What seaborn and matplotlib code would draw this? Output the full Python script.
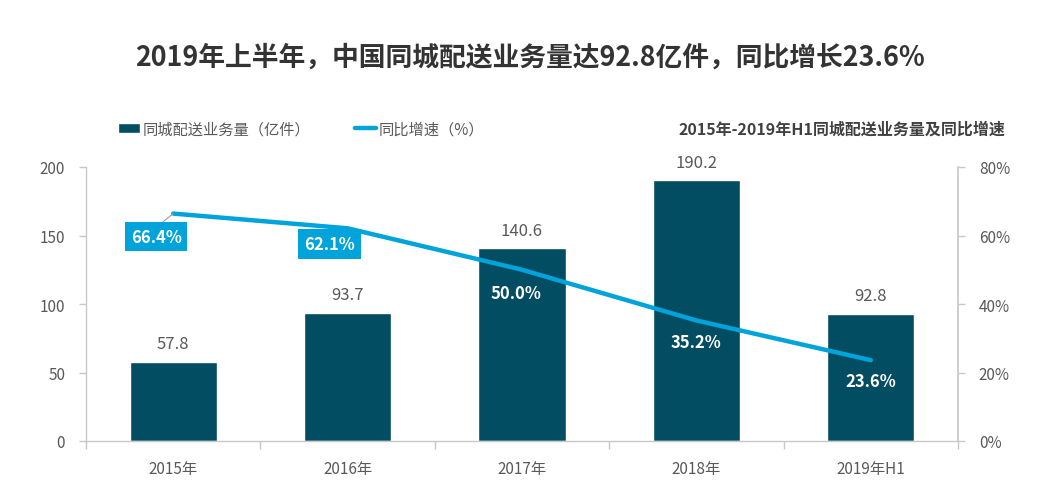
import numpy as np
import pandas as pd
import matplotlib
matplotlib.use("Agg")
import matplotlib.pyplot as plt
import seaborn as sns
from matplotlib.ticker import FixedLocator, PercentFormatter

categories = ["2015年", "2016年", "2017年", "2018年", "2019年H1"]
volume = [57.8, 93.7, 140.6, 190.2, 92.8]
growth = [66.4, 62.1, 50.0, 35.2, 23.6]
left_ticks = [0, 50, 100, 150, 200]
right_ticks = [0, 20, 40, 60, 80]

title = "2019年上半年，中国同城配送业务量达92.8亿件，同比增长23.6%"
subtitle = "2015年-2019年H1同城配送业务量及同比增速"
bar_name = "同城配送业务量（亿件）"
line_name = "同比增速（%）"

BAR = "#034D63"
LINE = "#00A3DA"
GRAY = "#595959"
SPINE = "#C8C8C8"

sns.set_theme(style="white")
plt.rcParams["font.family"] = ["Noto Sans CJK SC", "DejaVu Sans"]

df = pd.DataFrame({"cat": categories, "vol": volume, "gr": growth,
                   "pos": np.arange(len(categories))})

fig = plt.figure(figsize=(10.53, 5.02), dpi=100)
ax = fig.add_axes([86/1053, 1-442/502, (958-86)/1053, (442-168)/502])

sns.barplot(data=df, x="cat", y="vol", color=BAR, width=0.5, ax=ax,
            saturation=1, label=bar_name)
ax.set_xlim(-0.5, len(categories) - 0.5)
ax.set_ylim(0, 200)
ax.set_yticks(left_ticks)
ax.set_xlabel("")
ax.set_ylabel("")
for s in ["top", "right"]:
    ax.spines[s].set_visible(False)
for s in ["left", "bottom"]:
    ax.spines[s].set_color(SPINE)
    ax.spines[s].set_linewidth(1.0)
ax.tick_params(axis="y", colors=SPINE, labelcolor=GRAY, labelsize=11,
               length=5, width=1, left=True, pad=10)
ax.tick_params(axis="x", which="major", length=0, labelcolor=GRAY,
               labelsize=11, pad=14)
ax.xaxis.set_minor_locator(FixedLocator(np.arange(-0.5, len(categories), 1.0)))
ax.tick_params(axis="x", which="minor", length=6, color=SPINE, bottom=True)

for p, v in zip(df["pos"], df["vol"]):
    ax.annotate(f"{v:.1f}", (p, v), xytext=(0, 18), textcoords="offset pixels",
                ha="center", va="center", fontsize=12, color=GRAY)

ax2 = ax.twinx()
sns.lineplot(data=df, x="pos", y="gr", color=LINE, linewidth=3.2, ax=ax2,
             label=line_name, legend=False)
ax2.set_ylim(0, 80)
ax2.set_yticks(right_ticks)
ax2.yaxis.set_major_formatter(PercentFormatter(decimals=0))
ax2.set_xlim(-0.5, len(categories) - 0.5)
ax2.set_xlabel("")
ax2.set_ylabel("")
for s in ["top", "left", "bottom"]:
    ax2.spines[s].set_visible(False)
ax2.spines["right"].set_color(SPINE)
ax2.tick_params(axis="y", colors=SPINE, labelcolor=GRAY, labelsize=11,
                length=5, width=1, right=True, pad=10)

offsets = [(-17, -23), (-18, -16), (-6, -23), (0, -22), (0, -21)]
boxed = [True, True, False, False, False]
for p, g, off, bx in zip(df["pos"], df["gr"], offsets, boxed):
    kw = dict(xytext=off, textcoords="offset pixels", ha="center", va="center",
              fontsize=12, color="white", fontweight="bold")
    if bx:
        kw["bbox"] = dict(boxstyle="square,pad=0.35", fc=LINE, ec="none")
    ax2.annotate(f"{g:.1f}%", (p, g), **kw)
# leader line for first label
ax2.annotate("", (df["pos"][0], df["gr"][0]), xytext=(-10, -8),
             textcoords="offset pixels",
             arrowprops=dict(arrowstyle="-", color="#A0A0A0", lw=0.8,
                             shrinkA=0, shrinkB=0))

fig.text(530/1053, 1-58/502, title, ha="center", va="center",
         fontsize=19.3, fontweight="bold", color="#333333")
fig.text(1005/1053, 1-130/502, subtitle, ha="right", va="center",
         fontsize=11.5, fontweight="bold", color="#404040")

h1, l1 = ax.get_legend_handles_labels()
h2, l2 = ax2.get_legend_handles_labels()
if ax.get_legend() is not None:
    ax.get_legend().remove()
fig.legend(h1 + h2, l1 + l2, loc="center left",
           bbox_to_anchor=(112/1053, 1-130/502), ncol=2, frameon=False,
           fontsize=11, labelcolor=GRAY, handlelength=1.4, handleheight=0.55,
           handletextpad=0.2, columnspacing=2.9, borderaxespad=0)

fig.savefig("out.png", dpi=100, facecolor="white")
